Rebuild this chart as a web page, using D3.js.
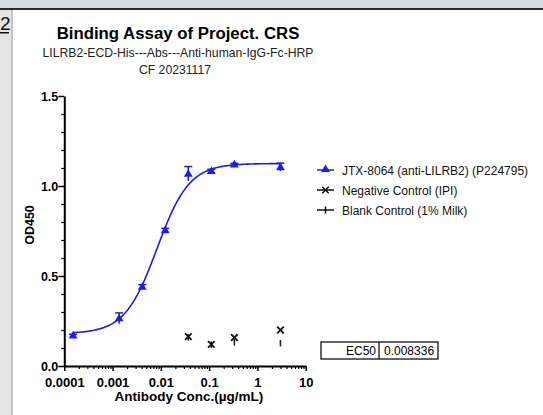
<!DOCTYPE html>
<html>
<head>
<meta charset="utf-8">
<script src="https://cdn.jsdelivr.net/npm/d3@7"></script>
<style>
  body { margin: 0; background: #fff; }
  svg { display: block; font-family: "Liberation Sans", Arial, sans-serif; }
</style>
</head>
<body>
<div id="chart"></div>
<script>
// Concentrations (ug/mL) and OD450 readings
const conc = [0.000152, 0.00137, 0.00412, 0.0123, 0.037, 0.111, 0.333, 3];
const jtxMean = [0.17, 0.265, 0.44, 0.755, 1.068, 1.083, 1.12, 1.105];
const jtxSD = [0.006, 0.03, 0.012, 0.01, 0.04, 0.01, 0.006, 0.022];
const ctrlConc = [0.037, 0.111, 0.333, 3];
const negMean = [0.163, 0.12, 0.158, 0.2];
const blankMean = [0.16, 0.12, 0.133, 0.128];

// 4PL fit parameters
const fitBottom = 0.18, fitTop = 1.125, fitEC50 = 0.008336, fitHill = 1.3;

const xTicks = [0.0001, 0.001, 0.01, 0.1, 1, 10];
const xTickLabels = ["0.0001", "0.001", "0.01", "0.1", "1", "10"];
const yTicks = [0, 0.5, 1.0, 1.5];
const legendLabels = ["JTX-8064 (anti-LILRB2) (P224795)", "Negative Control (IPI)", "Blank Control (1% Milk)"];

function init() {
    const w = 543, h = 415;
    const blue = "#1c1ce6";

    const svg = d3.select("#chart").append("svg")
        .attr("width", w)
        .attr("height", h);

    // page frame bits from the screenshot
    svg.append("rect").attr("x", 0).attr("y", 0).attr("width", w).attr("height", 8).attr("fill", "#d8dde5");
    svg.append("rect").attr("x", 0).attr("y", 8).attr("width", w).attr("height", 2).attr("fill", "#2a2a2a");
    svg.append("rect").attr("x", 0).attr("y", 10).attr("width", 11).attr("height", h - 10).attr("fill", "#e4e4e4");
    svg.append("rect").attr("x", 11).attr("y", 10).attr("width", 2).attr("height", h - 10).attr("fill", "#c4c4c4");
    svg.append("text").attr("x", 0).attr("y", 30).attr("font-size", 19).attr("fill", "#111").text("2");
    svg.append("rect").attr("x", 0).attr("y", 32).attr("width", 9).attr("height", 1.5).attr("fill", "#111");

    // titles
    svg.append("text").attr("x", 178).attr("y", 39).attr("text-anchor", "middle")
        .attr("font-size", 16.8).attr("font-weight", "bold").text("Binding Assay of Project. CRS");
    svg.append("text").attr("x", 178).attr("y", 57).attr("text-anchor", "middle")
        .attr("font-size", 12.2).attr("fill", "#222").text("LILRB2-ECD-His---Abs---Anti-human-IgG-Fc-HRP");
    svg.append("text").attr("x", 175).attr("y", 74).attr("text-anchor", "middle")
        .attr("font-size", 12.2).attr("fill", "#222").text("CF 20231117");

    const x = d3.scaleLog().domain([0.0001, 10]).range([64.3, 305.7]);
    const y = d3.scaleLinear().domain([0, 1.5]).range([366, 96]);

    // x axis
    const minorX = [];
    for (let e = -4; e < 1; e++) for (let k = 2; k <= 9; k++) minorX.push(k * Math.pow(10, e));
    svg.append("g").attr("transform", "translate(0,366)")
        .call(d3.axisBottom(x).tickValues(minorX).tickSize(3).tickFormat(""))
        .call(g => g.select(".domain").remove())
        .selectAll("line").attr("stroke-width", 1.2);
    const xAxis = svg.append("g").attr("transform", "translate(0,366)")
        .call(d3.axisBottom(x).tickValues(xTicks).tickSize(5).tickSizeOuter(0)
            .tickFormat((d, i) => xTickLabels[i]));
    xAxis.select(".domain").attr("stroke-width", 2);
    xAxis.selectAll("line").attr("stroke-width", 1.5);
    xAxis.selectAll("text").attr("font-size", 13).attr("font-weight", "bold")
        .attr("font-family", "'Liberation Sans', Arial, sans-serif").attr("dy", "1.0em");

    // y axis
    const minorY = d3.range(1, 15).map(d => d / 10).filter(d => Math.abs(d * 2 - Math.round(d * 2)) > 1e-6);
    svg.append("g").attr("transform", "translate(64.3,0)")
        .call(d3.axisLeft(y).tickValues(minorY).tickSize(3).tickFormat(""))
        .call(g => g.select(".domain").remove())
        .selectAll("line").attr("stroke-width", 1.2);
    const yAxis = svg.append("g").attr("transform", "translate(64.3,0)")
        .call(d3.axisLeft(y).tickValues(yTicks).tickSize(6).tickSizeOuter(0).tickFormat(d3.format(".1f")));
    yAxis.select(".domain").attr("stroke-width", 2);
    yAxis.selectAll("line").attr("stroke-width", 1.5);
    yAxis.selectAll("text").attr("font-size", 12.5).attr("font-weight", "bold")
        .attr("font-family", "'Liberation Sans', Arial, sans-serif").attr("x", -6);

    // axis titles
    svg.append("text").attr("x", 189).attr("y", 401).attr("text-anchor", "middle")
        .attr("font-size", 13.5).attr("font-weight", "bold").text("Antibody Conc.(\u00b5g/mL)");
    svg.append("text").attr("transform", "translate(34,225) rotate(-90)").attr("text-anchor", "middle")
        .attr("font-size", 12.5).attr("font-weight", "bold").text("OD450");

    // fitted curve
    const fit = c => fitBottom + (fitTop - fitBottom) / (1 + Math.pow(fitEC50 / c, fitHill));
    const lo = Math.log10(d3.min(conc)), hi = Math.log10(d3.max(conc));
    const curve = d3.range(0, 201).map(i => Math.pow(10, lo + (hi - lo) * i / 200));
    svg.append("path").datum(curve)
        .attr("fill", "none").attr("stroke", blue).attr("stroke-width", 1.6)
        .attr("d", d3.line().x(d => x(d)).y(d => y(fit(d))));

    // error bars
    const jtx = conc.map((c, i) => ({ c: c, m: jtxMean[i], sd: jtxSD[i] }));
    const eb = svg.append("g").attr("stroke", blue).attr("stroke-width", 1.5);
    jtx.forEach(d => {
        eb.append("line").attr("x1", x(d.c)).attr("x2", x(d.c)).attr("y1", y(d.m - d.sd)).attr("y2", y(d.m + d.sd));
        eb.append("line").attr("x1", x(d.c) - 4).attr("x2", x(d.c) + 4).attr("y1", y(d.m + d.sd)).attr("y2", y(d.m + d.sd));
    });

    // triangles
    const tri = d3.symbol().type(d3.symbolTriangle).size(34);
    svg.append("g").selectAll("path").data(jtx).enter().append("path")
        .attr("d", tri)
        .attr("transform", d => "translate(" + x(d.c) + "," + (y(d.m) + 0.5) + ")")
        .attr("fill", blue);

    // blank control marks (vertical ticks)
    svg.append("g").selectAll("line").data(ctrlConc).enter().append("line")
        .attr("x1", d => x(d)).attr("x2", d => x(d))
        .attr("y1", (d, i) => y(blankMean[i]) - 3).attr("y2", (d, i) => y(blankMean[i]) + 3.5)
        .attr("stroke", "#222").attr("stroke-width", 1.6);

    // negative control crosses
    const cross = svg.append("g").attr("stroke", "#111").attr("stroke-width", 1.8);
    ctrlConc.forEach((c, i) => {
        const cx = x(c), cy = y(negMean[i]), s = 3.3;
        cross.append("line").attr("x1", cx - s).attr("x2", cx + s).attr("y1", cy - s).attr("y2", cy + s);
        cross.append("line").attr("x1", cx - s).attr("x2", cx + s).attr("y1", cy + s).attr("y2", cy - s);
    });

    // legend
    const lg = svg.append("g");
    const rowY = [170, 190, 210];
    legendLabels.forEach((t, i) => {
        const ly = rowY[i];
        const col = i === 0 ? blue : "#111";
        lg.append("line").attr("x1", 317).attr("x2", 334).attr("y1", ly).attr("y2", ly)
            .attr("stroke", col).attr("stroke-width", 1.5);
        if (i === 0) {
            lg.append("path").attr("d", tri).attr("transform", "translate(325.5," + (ly - 0.5) + ")").attr("fill", blue);
        } else if (i === 1) {
            const s = 3.2;
            lg.append("line").attr("x1", 325.5 - s).attr("x2", 325.5 + s).attr("y1", ly - s).attr("y2", ly + s).attr("stroke", col).attr("stroke-width", 1.6);
            lg.append("line").attr("x1", 325.5 - s).attr("x2", 325.5 + s).attr("y1", ly + s).attr("y2", ly - s).attr("stroke", col).attr("stroke-width", 1.6);
        } else {
            lg.append("line").attr("x1", 325.5).attr("x2", 325.5).attr("y1", ly - 3.5).attr("y2", ly + 3.5).attr("stroke", col).attr("stroke-width", 1.6);
        }
        lg.append("text").attr("x", 342).attr("y", ly + 4.5).attr("font-size", 12).attr("fill", "#111").text(t);
    });

    // EC50 table
    const tb = svg.append("g");
    tb.append("rect").attr("x", 321).attr("y", 342).attr("width", 117).attr("height", 17)
        .attr("fill", "none").attr("stroke", "#111").attr("stroke-width", 1.3);
    tb.append("line").attr("x1", 379).attr("x2", 379).attr("y1", 342).attr("y2", 359)
        .attr("stroke", "#111").attr("stroke-width", 1.3);
    tb.append("text").attr("x", 376).attr("y", 355).attr("text-anchor", "end").attr("font-size", 12).text("EC50");
    tb.append("text").attr("x", 384).attr("y", 355).attr("font-size", 12).text(fitEC50.toString());
}

window.onload = init;
</script>
</body>
</html>
